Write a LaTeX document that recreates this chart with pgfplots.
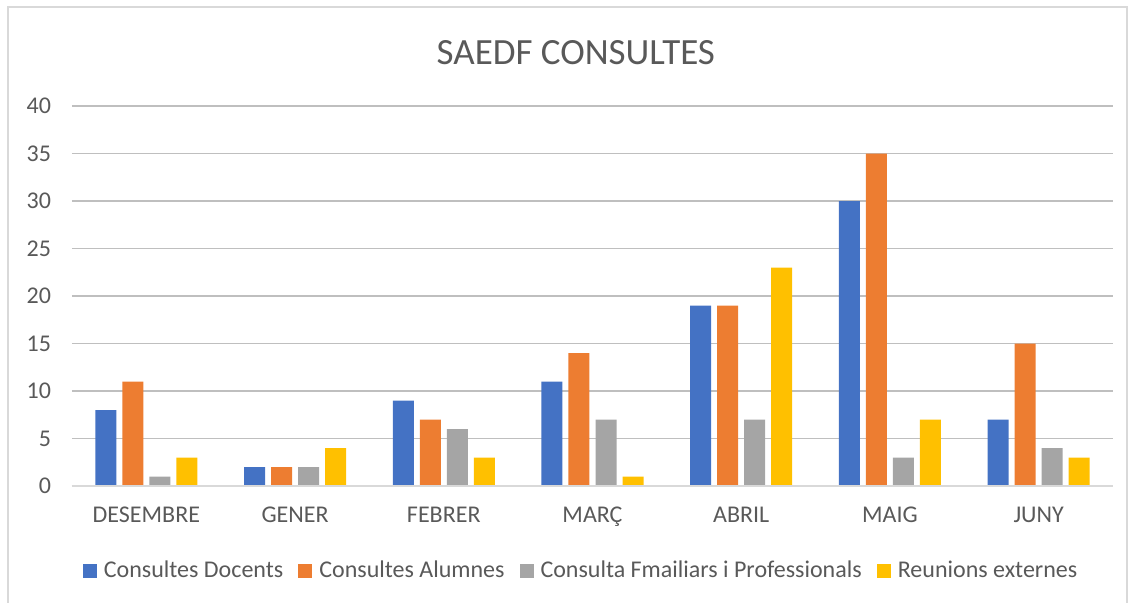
\documentclass[border=0pt]{standalone}
\usepackage{pgfplots}
\pgfplotsset{compat=1.18}
\usepackage{fontspec}
\setmainfont{Carlito}
\definecolor{c1}{HTML}{4472C4}
\definecolor{c2}{HTML}{ED7D31}
\definecolor{c3}{HTML}{A5A5A5}
\definecolor{c4}{HTML}{FFC000}
\definecolor{txt}{HTML}{595959}
\definecolor{grid}{HTML}{D9D9D9}
\begin{document}
\begin{tikzpicture}
\useasboundingbox (-36pt,-58pt) rectangle (531pt,243pt);
\draw[grid, line width=0.75pt] (-32pt,-70pt) -- (-32pt,239.5pt) -- (527.5pt,239.5pt) -- (527.5pt,-70pt);
\begin{axis}[
  scale only axis,
  width=520.5pt, height=190pt,
  ymin=0, ymax=40, ytick={0,5,...,40},
  xmin=-0.5, xmax=6.5,
  xtick=data,
  xticklabels={DESEMBRE,GENER,FEBRER,MARÇ,ABRIL,MAIG,JUNY},
  ybar, bar width=10.5pt,
  ymajorgrids, xmajorgrids=false, grid style={grid, line width=0.75pt},
  axis line style={draw=none},
  tick style={draw=none},
  major tick length=0pt,
  tick label style={font=\fontsize{12}{14}\selectfont, text=txt},
  /pgf/number format/assume math mode=true,
  yticklabel style={xshift=-7pt},
  xticklabel style={yshift=-7pt},
  title={SAEDF CONSULTES},
  title style={at={(rel axis cs:0.484,1.11)}, anchor=center, font=\fontsize{18.5}{22}\selectfont, text=txt},
  legend style={at={(rel axis cs:0.49,-0.224)}, anchor=center, draw=none, legend columns=-1,
    font=\fontsize{12}{14}\selectfont, text=txt,
    /tikz/every even column/.append style={column sep=5.5pt}},
  legend image code/.code={\fill[#1] (0pt,-3.5pt) rectangle (7pt,3.5pt); \path (8.5pt,0pt);},
]
\addplot[fill=c1, draw=none, bar shift=-20.25pt] coordinates {(0,8) (1,2) (2,9) (3,11) (4,19) (5,30) (6,7)};
\addplot[fill=c2, draw=none, bar shift=-6.75pt] coordinates {(0,11) (1,2) (2,7) (3,14) (4,19) (5,35) (6,15)};
\addplot[fill=c3, draw=none, bar shift=6.75pt] coordinates {(0,1) (1,2) (2,6) (3,7) (4,7) (5,3) (6,4)};
\addplot[fill=c4, draw=none, bar shift=20.25pt] coordinates {(0,3) (1,4) (2,3) (3,1) (4,23) (5,7) (6,3)};
\legend{Consultes Docents,Consultes Alumnes,Consulta Fmailiars i Professionals,Reunions externes}
\draw[grid, line width=0.75pt] (rel axis cs:0,0) -- (rel axis cs:1,0);
\end{axis}
\end{tikzpicture}
\end{document}
